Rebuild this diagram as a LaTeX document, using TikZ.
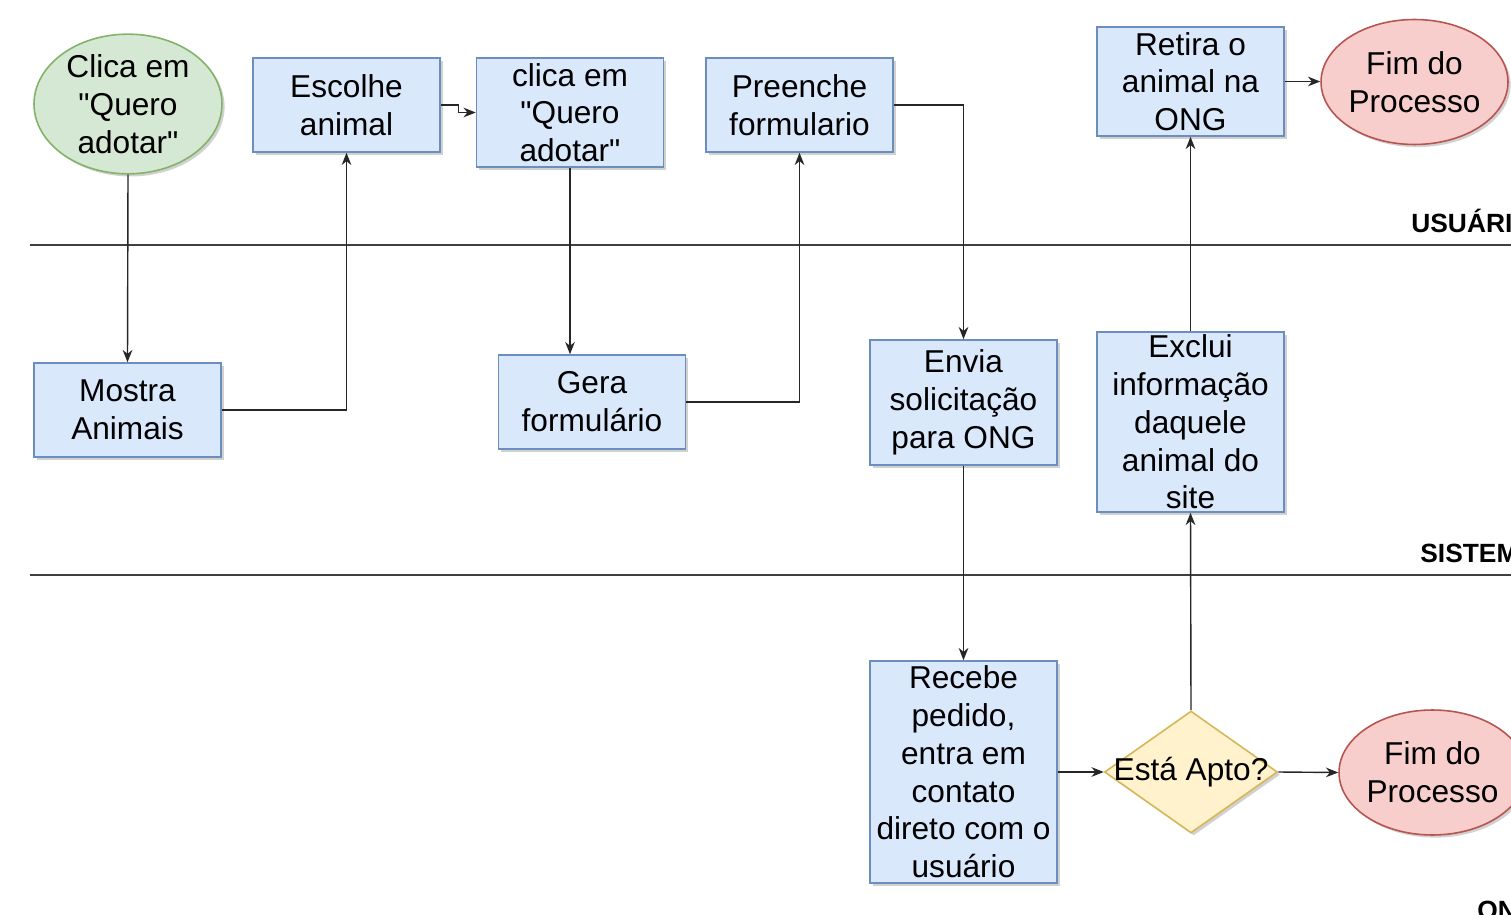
\documentclass[tikz,border=0pt]{standalone}
\usepackage{fontspec}
\setmainfont{Liberation Sans}[Ligatures=TeXOff]
\usetikzlibrary{shapes.geometric,arrows.meta,shadows}
\definecolor{bfill}{HTML}{DAE8FC}
\definecolor{bdraw}{HTML}{6C8EBF}
\definecolor{gfill}{HTML}{D5E8D4}
\definecolor{gdraw}{HTML}{82B366}
\definecolor{rfill}{HTML}{F8CECC}
\definecolor{rdraw}{HTML}{B85450}
\definecolor{yfill}{HTML}{FFF2CC}
\definecolor{ydraw}{HTML}{D6B656}
\tikzset{
  shd/.style={drop shadow={shadow xshift=1.5pt,shadow yshift=-1.5pt,fill=black,opacity=0.18}},
  txt/.style={font=\fontsize{18}{21.5}\selectfont, align=center, text=black},
  box/.style={txt, rectangle, draw=bdraw, fill=bfill, line width=0.9pt, shd, minimum width=3.74cm, inner sep=0pt},
  startel/.style={txt, ellipse, draw=gdraw, fill=gfill, line width=0.9pt, shd, minimum width=3.76cm, minimum height=2.48cm, inner sep=0pt},
  endel/.style={txt, ellipse, draw=rdraw, fill=rfill, line width=0.9pt, shd, minimum width=3.74cm, minimum height=2.5cm, inner sep=0pt},
  dec/.style={diamond, draw=ydraw, fill=yfill, line width=0.9pt, shd, minimum width=3.46cm, minimum height=2.44cm, inner sep=0pt, aspect=1.4},
  arr/.style={-{Stealth[length=7pt,width=5.5pt]}, line width=0.8pt, draw=black!85},
  lane/.style={line width=1.3pt, draw=black!75},
  lanelbl/.style={font=\fontsize{15}{18}\selectfont\bfseries, anchor=base west, inner sep=0pt}
}
\begin{document}
\begin{tikzpicture}[x=0.02cm,y=-0.02cm]
\useasboundingbox (0,0) rectangle (1511,915);
\clip (0,0) rectangle (1511,915);
\fill[white] (0,0) rectangle (1511,915);
% lanes
\draw[lane] (30,245) -- (1511,245);
\draw[lane] (30,575) -- (1511,575);
\node[lanelbl] (lu) at (1411,233) {USUÁRIO};
\node[lanelbl] (ls) at (1420,562) {SISTEMA};
\node[lanelbl] (lo) at (1477,919) {ONG};
% nodes
\node[startel] (ini) at (128,104) {Clica em\\"Quero\\adotar"};
\node[box, minimum height=1.88cm] (esc) at (346.5,105) {Escolhe\\animal};
\node[box, minimum height=2.18cm] (cli) at (570,112.5) {clica em\\"Quero\\adotar"};
\node[box, minimum height=1.88cm] (pre) at (799.5,105) {Preenche\\formulario};
\node[box, minimum height=2.18cm] (ret) at (1190.5,81.5) {Retira o\\animal na\\ONG};
\node[endel] (fim1) at (1414.5,82) {Fim do\\Processo};
\node[box, minimum height=1.88cm] (mos) at (127.5,410) {Mostra\\Animais};
\node[box, minimum height=1.88cm] (gera) at (592,402) {Gera\\formulário};
\node[box, minimum height=2.5cm] (env) at (963.5,402.5) {Envia\\solicitação\\para ONG};
\node[box, minimum height=3.6cm] (exc) at (1190.5,422) {Exclui\\informação\\daquele\\animal do\\site};
\node[box, minimum height=4.44cm] (rec) at (963.5,772) {Recebe\\pedido,\\entra em\\contato\\direto com o\\usuário};
\node[dec, label={[txt]center:Está Apto?}] (apto) at (1191,772) {};
\node[endel] (fim2) at (1432.5,772.5) {Fim do\\Processo};
% connectors
\draw[arr] (ini.south) -- (mos.north);
\draw[arr] (mos.east) -| (esc.south);
\draw[arr] (esc.east) -- ++(18,0) |- (cli.west);
\draw[arr] (cli.south) -- (cli.south |- gera.north);
\draw[arr] (gera.east) -| (pre.south);
\draw[arr] (pre.east) -| (env.north);
\draw[arr] (env.south) -- (rec.north);
\draw[arr] (rec.east) -- (apto.west);
\draw[arr] (apto.east) -- (fim2.west);
\draw[arr] (apto.north) -- (exc.south);
\draw[arr] (exc.north) -- (ret.south);
\draw[arr] (ret.east) -- (ret.east -| fim1.west);
\end{tikzpicture}
\end{document}
